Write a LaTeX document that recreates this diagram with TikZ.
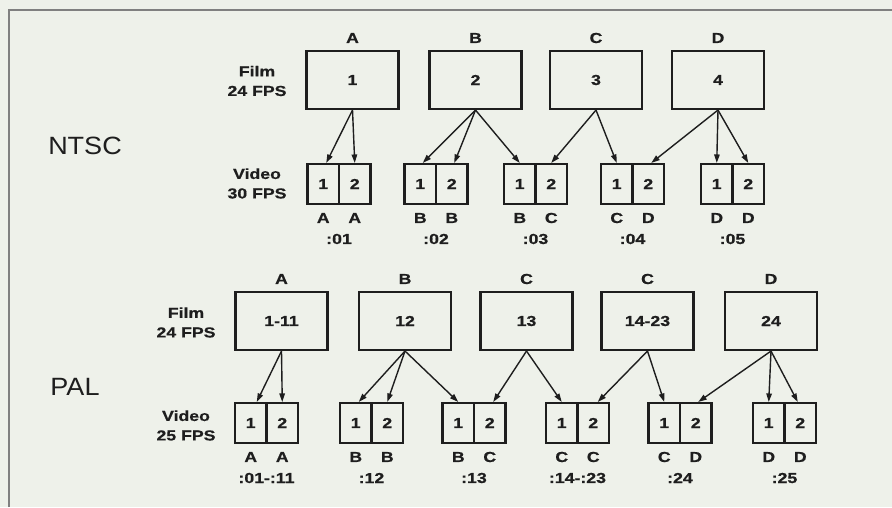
\documentclass[tikz,border=0pt]{standalone}
\usepackage{fontspec}
\setmainfont{Liberation Sans}
\newfontfamily\lblfont[FakeStretch=1.22,BoldFeatures={FakeBold=0.6}]{Liberation Sans}
\newfontfamily\sysfont[FakeStretch=1.08]{Liberation Sans}
\usetikzlibrary{arrows.meta}
\definecolor{paper}{RGB}{238,241,234}
\definecolor{ink}{RGB}{30,30,30}
\definecolor{rule}{RGB}{128,128,128}

% one film frame: name, x, y, frame number, frame letter
\newcommand\filmframe[5]{%
  \node[frame] (#1) at (#2,#3) {#4};
  \node (#1l) at (#2,#3-42) {#5};}
% one video frame with its two fields: name, divider x, y, field letters, timecode
\newcommand\videoframe[6]{%
  \node[cell] (#1a) at (#2-15.75,#3) {1};
  \node[cell] (#1b) at (#2+15.75,#3) {2};
  \node (#1la) at (#2-15.75,#3+34) {#4};
  \node (#1lb) at (#2+15.75,#3+34) {#5};
  \node (#1t) at (#2,#3+55) {#6};}

\begin{document}
\begin{tikzpicture}[x=1pt,y=-1pt,
  every node/.style={text=ink, inner sep=0pt,
    font=\lblfont\bfseries\fontsize{14.5}{16}\selectfont},
  frame/.style={draw=ink, line width=2.1pt, minimum width=92pt, minimum height=58pt},
  cell/.style={draw=ink, line width=2.1pt, minimum width=31.5pt, minimum height=40pt},
  link/.style={draw=ink, line width=1.4pt, -{Triangle[length=8.5pt,width=5.5pt]}},
  side/.style={align=center, font=\lblfont\bfseries\fontsize{14.5}{19.5}\selectfont},
  system/.style={font=\sysfont\fontsize{25}{30}\selectfont},
]
\useasboundingbox (0,0) rectangle (892,507);
\fill[paper] (0,0) rectangle (892,507);
\draw[rule, line width=1.5pt] (9,507) -- (9,10) -- (892,10);

% ---------- NTSC: 3:2 pulldown ----------
\node[system] (ntsc) at (85,146) {NTSC};
\node[side] (nfilm) at (257,81) {Film\\24 FPS};
\node[side] (nvideo) at (257,183.5) {Video\\30 FPS};

\filmframe{nA}{352.5}{80}{1}{A}
\filmframe{nB}{475.5}{80}{2}{B}
\filmframe{nC}{596}{80}{3}{C}
\filmframe{nD}{718}{80}{4}{D}

\videoframe{n1}{339}{184}{A}{A}{:01}
\videoframe{n2}{436}{184}{B}{B}{:02}
\videoframe{n3}{535.5}{184}{B}{C}{:03}
\videoframe{n4}{632.5}{184}{C}{D}{:04}
\videoframe{n5}{732.5}{184}{D}{D}{:05}

\draw[link] (nA.south) -- ([xshift=3pt]n1a.north);
\draw[link] (nA.south) -- (n1b.north);
\draw[link] (nB.south) -- ([xshift=2.5pt]n2a.north);
\draw[link] (nB.south) -- ([xshift=2.5pt]n2b.north);
\draw[link] (nB.south) -- (n3a.north);
\draw[link] (nC.south) -- (n3b.north);
\draw[link] (nC.south) -- (n4a.north);
\draw[link] (nD.south) -- ([xshift=3pt]n4b.north);
\draw[link] (nD.south) -- (n5a.north);
\draw[link] (nD.south) -- (n5b.north);

% ---------- PAL: 24 to 25 ----------
\node[system] (pal) at (75,387) {PAL};
\node[side] (pfilm) at (186,322.5) {Film\\24 FPS};
\node[side] (pvideo) at (186,425.5) {Video\\25 FPS};

\filmframe{pA}{281.5}{321}{1-11}{A}
\filmframe{pB}{405}{321}{12}{B}
\filmframe{pC}{526.5}{321}{13}{C}
\filmframe{pE}{647.5}{321}{14-23}{C}
\filmframe{pD}{771}{321}{24}{D}

\videoframe{p1}{266.5}{423}{A}{A}{:01-:11}
\videoframe{p2}{371.5}{423}{B}{B}{:12}
\videoframe{p3}{474}{423}{B}{C}{:13}
\videoframe{p4}{577.5}{423}{C}{C}{:14-:23}
\videoframe{p5}{680}{423}{C}{D}{:24}
\videoframe{p6}{784.5}{423}{D}{D}{:25}

\draw[link] (pA.south) -- ([xshift=6pt]p1a.north);
\draw[link] (pA.south) -- (p1b.north);
\draw[link] (pB.south) -- ([xshift=3pt]p2a.north);
\draw[link] (pB.south) -- (p2b.north);
\draw[link] (pB.south) -- (p3a.north);
\draw[link] (pC.south) -- ([xshift=3.5pt]p3b.north);
\draw[link] (pC.south) -- (p4a.north);
\draw[link] (pE.south) -- ([xshift=4.5pt]p4b.north);
\draw[link] (pE.south) -- (p5a.north);
\draw[link] (pD.south) -- ([xshift=2.5pt]p5b.north);
\draw[link] (pD.south) -- (p6a.north);
\draw[link] (pD.south) -- ([xshift=-2.5pt]p6b.north);
\end{tikzpicture}
\end{document}
